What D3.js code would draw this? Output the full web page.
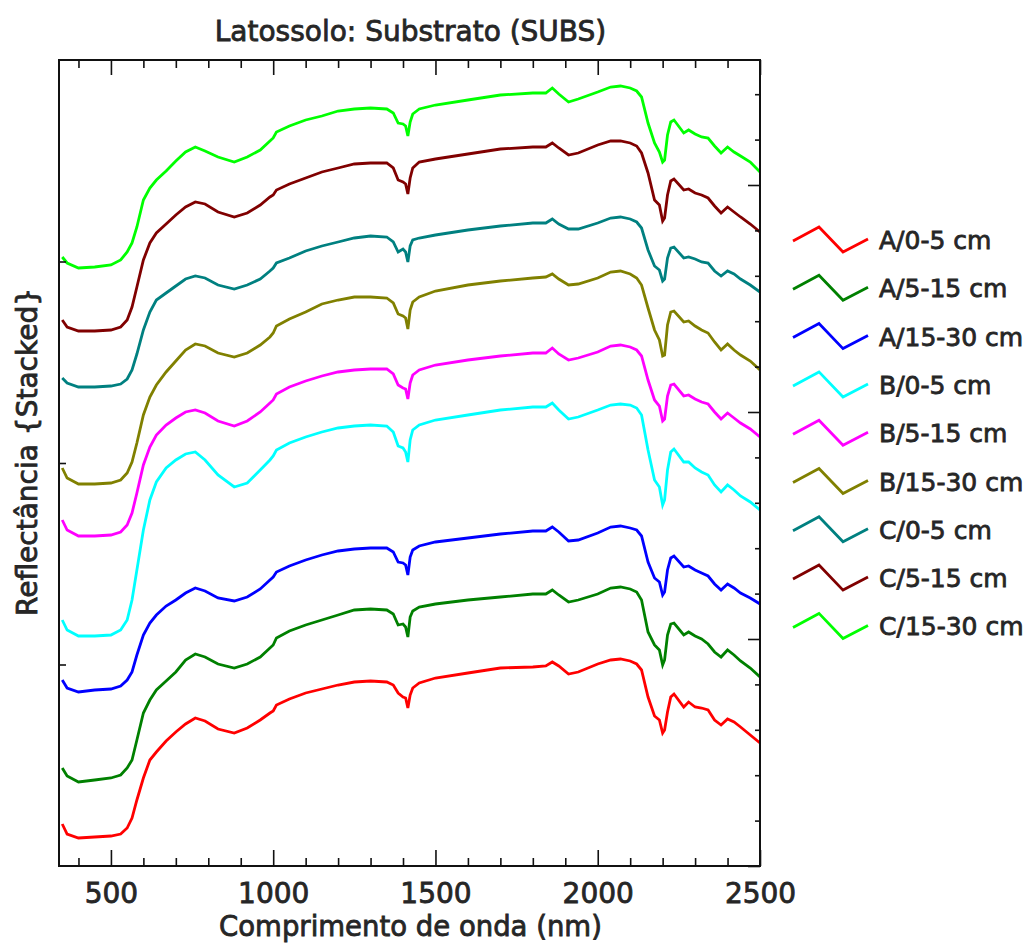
<!DOCTYPE html>
<html>
<head>
<meta charset="utf-8">
<script src="https://cdn.jsdelivr.net/npm/d3@7"></script>
<style>
  html, body { margin: 0; padding: 0; background: #fff; }
  svg { display: block; }
  text { font-family: "DejaVu Sans", sans-serif; fill: #262626; }
  .heavy { stroke: #262626; stroke-width: 0.8px; }
</style>
</head>
<body>
<svg id="chart" width="1031" height="943"></svg>
<script>
// Wavelength grid (nm) shared by every spectrum
const wavelengths = [350,365,400,450,500,530,550,565,580,600,620,640,670,700,730,760,790,830,880,920,960,990,1000,1010,1050,1100,1150,1200,1250,1300,1350,1370,1385,1400,1408,1415,1422,1430,1450,1500,1600,1700,1800,1840,1860,1880,1910,1940,2000,2040,2070,2100,2120,2135,2155,2175,2190,2200,2206,2215,2225,2235,2265,2280,2300,2320,2340,2360,2380,2400,2420,2440,2470,2500];

// Stacked reflectance (offset spectra, arbitrary units x1000)
const specA0_5 = [42,32,28,29,30,32,38,48,66,88,106,114,125,134,142,148,145,137,133,138,146,153,155,161,167,173,177,181,184,185,184,181,173,169,168,158,171,178,183,188,193,198,199,200,204,200,192,194,202,206,207,205,202,196,169,150,146,133,136,154,169,172,159,164,159,158,156,146,141,147,144,139,131,123];
const specA5_15 = [98,90,84,86,88,91,98,106,126,153,166,176,185,194,206,212,209,202,198,202,209,218,221,228,235,241,246,251,256,257,256,252,241,242,239,229,249,255,259,262,266,269,272,272,276,271,264,266,272,278,279,277,274,266,234,221,216,201,206,231,242,243,231,234,230,227,222,214,209,216,211,205,198,189];
const specA15_30 = [186,178,174,176,177,180,186,194,211,231,243,251,260,266,273,278,275,268,265,269,277,286,289,294,300,306,311,315,317,318,318,314,304,303,301,291,309,316,320,324,328,332,335,335,339,334,325,326,333,339,340,338,336,330,304,288,284,271,274,296,308,310,299,300,296,293,290,282,276,282,278,273,268,262];
const specB0_5 = [246,236,230,230,231,236,246,266,296,336,366,384,398,406,412,414,406,391,379,383,396,406,410,416,423,429,434,438,440,441,440,434,420,418,414,404,426,436,441,446,451,456,459,459,463,456,447,449,456,461,462,461,458,451,416,386,379,361,366,396,414,417,404,404,398,394,391,381,374,381,376,370,364,356];
const specB5_15 = [346,336,330,330,331,334,341,353,373,401,419,431,441,448,454,456,453,445,440,445,454,463,466,472,479,485,490,494,496,497,497,492,481,478,477,467,483,491,496,501,506,510,513,513,518,512,506,508,514,520,521,519,516,510,486,466,460,445,447,470,481,482,470,471,467,464,462,454,447,453,448,443,437,429];
const specB15_30 = [398,388,382,382,383,386,393,404,423,451,469,481,494,505,516,522,520,513,509,513,521,529,533,540,547,554,562,566,569,569,568,563,552,550,548,537,556,564,569,575,581,585,588,589,592,587,581,582,588,594,595,592,588,581,558,536,526,510,511,541,554,555,544,545,540,536,533,524,516,522,516,511,505,496];
const specC0_5 = [488,483,479,479,480,482,487,496,512,536,554,566,573,580,587,590,588,581,577,581,587,595,598,603,608,615,620,624,628,630,629,624,614,617,614,604,620,626,628,631,636,640,643,643,647,642,637,637,643,648,649,647,644,638,616,600,596,585,587,608,618,619,608,609,607,604,603,595,590,595,592,587,581,574];
const specC5_15 = [546,539,535,535,536,539,546,559,579,606,623,633,642,651,659,664,662,654,649,653,661,669,671,676,682,688,694,698,702,703,703,698,686,684,682,672,688,698,704,707,712,717,719,719,723,718,711,713,721,725,725,723,720,713,693,666,661,645,648,671,685,687,676,677,673,671,668,660,653,659,654,649,642,634];
const specC15_30 = [609,603,598,599,601,606,614,623,639,666,678,686,695,705,714,719,715,709,704,709,716,725,728,734,740,746,750,755,757,758,757,753,743,742,740,730,744,752,757,761,766,771,773,773,778,772,764,767,774,779,780,778,775,769,743,723,714,704,706,731,744,746,733,736,732,729,728,720,713,719,714,710,704,694];

const seriesLabels = ["A/0-5 cm","A/5-15 cm","A/15-30 cm","B/0-5 cm","B/5-15 cm","B/15-30 cm","C/0-5 cm","C/5-15 cm","C/15-30 cm"];
const seriesValues = [specA0_5, specA5_15, specA15_30, specB0_5, specB5_15, specB15_30, specC0_5, specC5_15, specC15_30];
const seriesColors = ["#ff0000","#008000","#0000ff","#00ffff","#ff00ff","#808000","#008080","#800000","#00ff00"];

const xMajorTicks = [500,1000,1500,2000,2500];
const xMinorTicks = [400,600,700,800,900,1100,1200,1300,1400,1600,1700,1800,1900,2100,2200,2300,2400];

const titleText = "Latossolo: Substrato (SUBS)";
const xTitle = "Comprimento de onda (nm)";
const yTitle = "Reflectância {Stacked}";

// ---- layout ----
const svg = d3.select("#chart");
const plot = { left: 59, top: 60, right: 760, bottom: 866 };

const x = d3.scaleLinear().domain([340, 2500]).range([plot.left, plot.right]);
const y = d3.scaleLinear().domain([0, 806]).range([plot.bottom, plot.top]);
// the right-hand axis carries its own (unlabelled) scale
const yRight = d3.scaleLinear().domain([0, 806 / 227]).range([plot.bottom, plot.top]);

// spectra
const line = d3.line()
  .x((d, i) => x(wavelengths[i]))
  .y(d => y(d))
  .curve(d3.curveLinear);

const g = svg.append("g");
g.append("defs").append("clipPath").attr("id", "clip")
  .append("rect")
  .attr("x", plot.left).attr("y", plot.top)
  .attr("width", plot.right - plot.left).attr("height", plot.bottom - plot.top);

const lines = g.append("g").attr("clip-path", "url(#clip)");
seriesValues.forEach((vals, k) => {
  lines.append("path")
    .datum(vals)
    .attr("d", line)
    .attr("fill", "none")
    .attr("stroke", seriesColors[k])
    .attr("stroke-width", 2.8)
    .attr("stroke-linejoin", "miter");
});

// axes (ticks point inward)
const axisStyle = sel => {
  sel.select(".domain").remove();
  sel.selectAll("line").attr("stroke", "#111").attr("stroke-width", 1.6);
};

// bottom
svg.append("g").attr("transform", `translate(0,${plot.bottom})`)
  .call(d3.axisBottom(x).tickValues(xMinorTicks).tickSize(-8).tickFormat(""))
  .call(axisStyle);
const bottomMajor = svg.append("g").attr("transform", `translate(0,${plot.bottom})`)
  .call(d3.axisBottom(x).tickValues(xMajorTicks).tickSize(-16).tickPadding(17).tickFormat(d3.format("d")))
  .call(axisStyle);
bottomMajor.selectAll("text")
  .attr("class", "heavy")
  .attr("font-size", 28).attr("fill", "#262626")
  .style("font-family", '"DejaVu Sans", sans-serif');

// top
svg.append("g").attr("transform", `translate(0,${plot.top})`)
  .call(d3.axisTop(x).tickValues(xMinorTicks).tickSize(-8).tickFormat(""))
  .call(axisStyle);
svg.append("g").attr("transform", `translate(0,${plot.top})`)
  .call(d3.axisTop(x).tickValues(xMajorTicks).tickSize(-15).tickFormat(""))
  .call(axisStyle);

// left
svg.append("g").attr("transform", `translate(${plot.left},0)`)
  .call(d3.axisLeft(y).tickValues([201.5, 403, 604.5]).tickSize(-7).tickFormat(""))
  .call(axisStyle);

// right
const rightMinor = d3.range(0.2, 3.56, 0.2).filter(v => Math.abs(v - Math.round(v)) > 0.01);
svg.append("g").attr("transform", `translate(${plot.right},0)`)
  .call(d3.axisRight(yRight).tickValues(rightMinor).tickSize(-5).tickFormat(""))
  .call(axisStyle);
svg.append("g").attr("transform", `translate(${plot.right},0)`)
  .call(d3.axisRight(yRight).tickValues([0, 1, 2, 3]).tickSize(-12).tickFormat(""))
  .call(axisStyle);

// frame
svg.append("rect")
  .attr("x", plot.left).attr("y", plot.top)
  .attr("width", plot.right - plot.left).attr("height", plot.bottom - plot.top)
  .attr("fill", "none").attr("stroke", "#111").attr("stroke-width", 2);

// titles
const cx = (plot.left + plot.right) / 2;
svg.append("text").attr("class", "heavy")
  .attr("x", cx + 1).attr("y", 41)
  .attr("text-anchor", "middle").attr("font-size", 28)
  .text(titleText);
svg.append("text").attr("class", "heavy")
  .attr("x", cx + 1).attr("y", 936)
  .attr("text-anchor", "middle").attr("font-size", 27.5)
  .text(xTitle);
svg.append("text").attr("class", "heavy")
  .attr("transform", `translate(37,${452}) rotate(-90)`)
  .attr("text-anchor", "middle").attr("font-size", 28)
  .text(yTitle);

// legend
const legend = svg.append("g").attr("transform", "translate(793,240)");
const zig = [[0, 1], [26, -13], [50, 12], [75, -1]];
seriesLabels.forEach((lab, k) => {
  const row = legend.append("g").attr("transform", `translate(0,${k * 48.3})`);
  row.append("path")
    .attr("d", d3.line()(zig))
    .attr("fill", "none")
    .attr("stroke", seriesColors[k])
    .attr("stroke-width", 2.8);
  row.append("text").attr("class", "heavy")
    .attr("x", 86).attr("y", 9)
    .attr("font-size", 25)
    .text(lab);
});
</script>
</body>
</html>
